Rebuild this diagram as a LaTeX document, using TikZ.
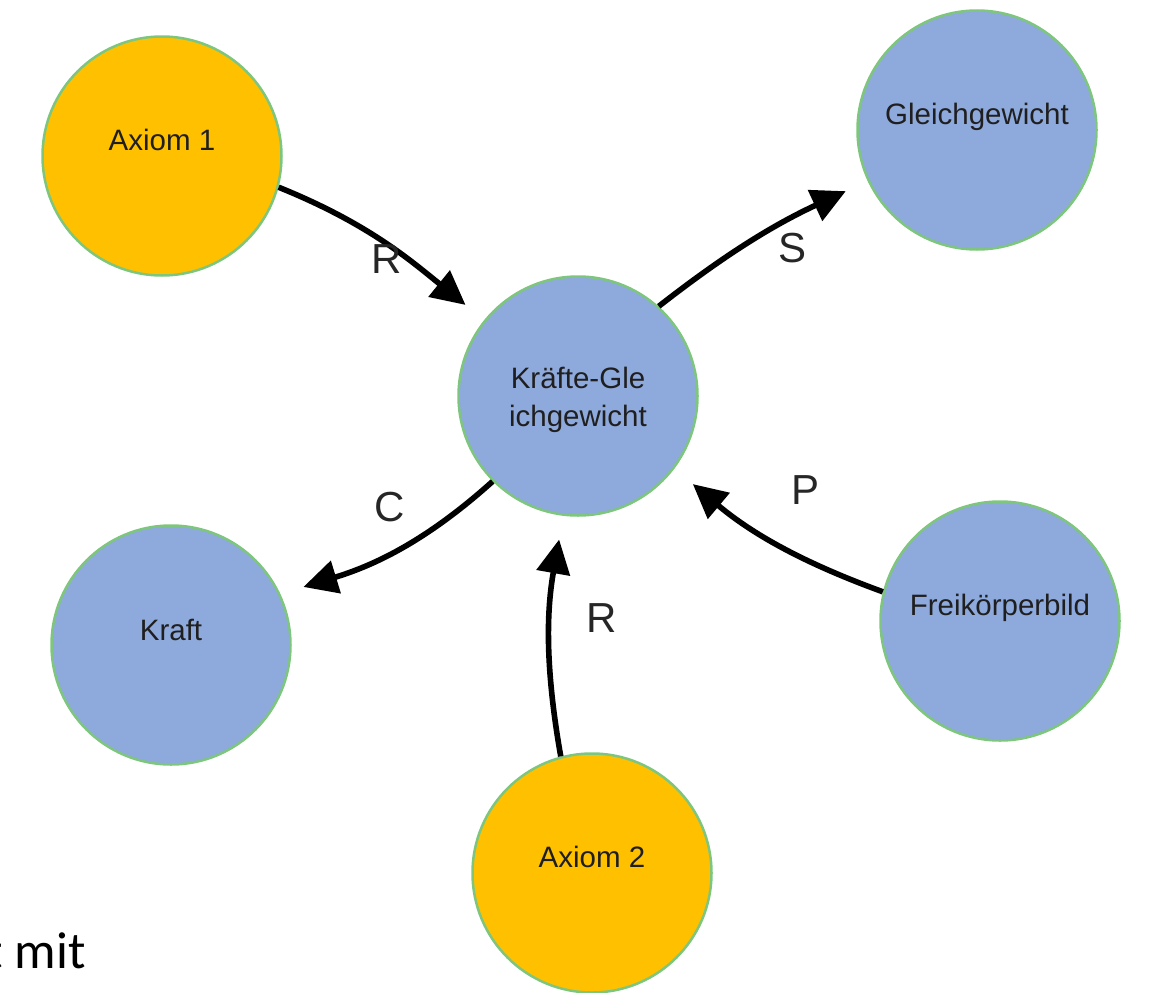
\documentclass[tikz,border=0pt]{standalone}
\usepackage{fontspec}
\setmainfont{Liberation Sans}
\newfontfamily\calib{Carlito}
\usetikzlibrary{arrows.meta}
\definecolor{orfill}{RGB}{255,192,0}
\definecolor{blfill}{RGB}{142,169,219}
\definecolor{grline}{RGB}{126,198,126}
\begin{document}
\begin{tikzpicture}[x=1pt,y=-1pt,
  ball/.style={circle, draw=grline, line width=2.5pt, minimum size=239pt, inner sep=0pt},
  ax/.style={ball, fill=orfill},
  bl/.style={ball, fill=blfill},
  txt/.style={font=\fontsize{29.5}{35}\selectfont, text=black!88, anchor=base, inner sep=0pt},
  rel/.style={font=\fontsize{42}{50}\selectfont, text=black!85, inner sep=0pt},
  conn/.style={line width=5.6pt, -{Triangle[length=34pt,width=33pt]}, shorten >=24pt},
]
\useasboundingbox (0,0) rectangle (1149,993);

% circles
\node[ax] (a1) at (162,156) {};
\node[bl] (gw) at (977,130) {};
\node[bl] (kg) at (578,396) {};
\node[bl] (kr) at (171,645) {};
\node[bl] (fb) at (1000,621) {};
\node[ax] (a2) at (592,873) {};

% texts
\node[txt] (a1t) at ([yshift=6pt]a1.center) {Axiom 1};
\node[txt] (gwt) at ([yshift=6pt]gw.center) {Gleichgewicht};
\node[txt] (krt) at ([yshift=5pt]kr.center) {Kraft};
\node[txt] (fbt) at ([yshift=6pt]fb.center) {Freikörperbild};
\node[txt] (a2t) at ([yshift=6pt]a2.center) {Axiom 2};
\node[txt] (kgt1) at ([yshift=8pt]kg.center) {Kräfte-Gle};
\node[txt] (kgt2) at ([yshift=-30pt]kg.center) {ichgewicht};

% connectors
\draw[conn] (a1.-15) to[out=-22,in=141] (kg.141);
\draw[conn] (kg.48) to[out=38,in=-155] (gw.205);
\draw[conn] (kg.225) to[out=222,in=17] (kr.25);
\draw[conn] (a2.105) to[out=100,in=-100] (kg.263);
\draw[conn] (fb.166) to[out=160,in=-40] (kg.-37);

% relation labels
\node[rel] (lr1) at (387,259) {R};
\node[rel] (ls) at (792,248) {S};
\node[rel] (lc) at (390,507) {C};
\node[rel] (lr2) at (602,618) {R};
\node[rel] (lp) at (805,490) {P};

% text cut off at the left edge, as in the reference
\node[font=\calib\fontsize{52}{60}\selectfont, anchor=base east, inner sep=0pt] (mit) at (86,968) {t mit};
\end{tikzpicture}
\end{document}
